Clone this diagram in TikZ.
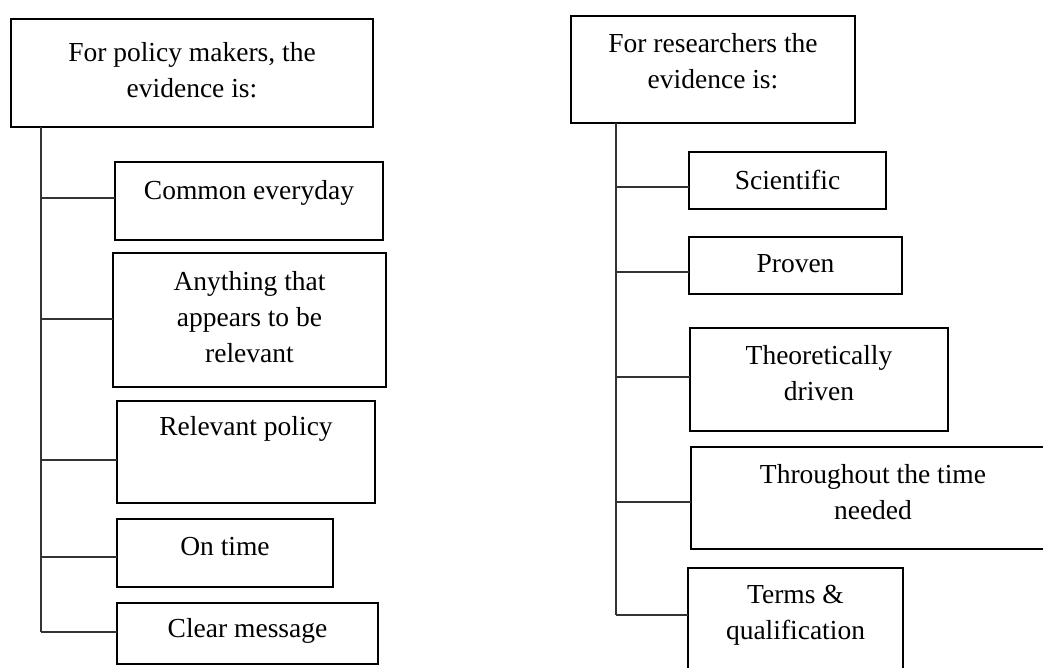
\documentclass[tikz,border=0pt]{standalone}
\usepackage{fontspec}
\setmainfont{Liberation Serif}
\begin{document}
\begin{tikzpicture}[x=1pt,y=-1pt,
  box/.style={draw=black, line width=2pt, inner sep=0pt, outer sep=0pt},
  txt/.style={inner sep=0pt, align=center, font=\fontsize{27.5}{36}\selectfont},
  conn/.style={draw=black!80, line width=1.3pt}]
\useasboundingbox (0,0) rectangle (1043,668);
\clip (0,0) rectangle (1043,668);
% ---------- left column ----------
\node[box, minimum width=362pt, minimum height=108pt] (L0) at (192,73) {};
\node[txt] (L0t) at (192,70) {For policy makers, the\\evidence is:};
\node[box, minimum width=268pt, minimum height=78pt] (L1) at (249,201) {};
\node[txt] (L1t) at (249,193) {Common everyday};
\node[box, minimum width=273pt, minimum height=134pt] (L2) at (249.5,320) {};
\node[txt] (L2t) at (249.5,317) {Anything that\\appears to be\\relevant};
\node[box, minimum width=258pt, minimum height=102pt] (L3) at (246,452) {};
\node[txt] (L3t) at (246,429) {Relevant policy};
\node[box, minimum width=216pt, minimum height=68pt] (L4) at (225,553) {};
\node[txt] (L4t) at (225,547) {On time};
\node[box, minimum width=261pt, minimum height=61pt] (L5) at (247.5,633.5) {};
\node[txt] (L5t) at (247.5,631) {Clear message};
\coordinate (LT) at (41,127);
\coordinate (LB) at (41,632);
\draw[conn] (LT) -- (LB);
\draw[conn] ([yshift=3pt]L1.west) -- ([yshift=3pt]L1.west -| LT);
\draw[conn] ([yshift=1pt]L2.west) -- ([yshift=1pt]L2.west -| LT);
\draw[conn] ([yshift=-8pt]L3.west) -- ([yshift=-8pt]L3.west -| LT);
\draw[conn] ([yshift=-4pt]L4.west) -- ([yshift=-4pt]L4.west -| LT);
\draw[conn] (L5.west |- LB) -- (LB);
% ---------- right column ----------
\node[box, minimum width=284pt, minimum height=107pt] (R0) at (713,69.5) {};
\node[txt] (R0t) at (713,61.5) {For researchers the\\evidence is:};
\node[box, minimum width=197pt, minimum height=57pt] (R1) at (787.5,180.5) {};
\node[txt] (R1t) at (787.5,180) {Scientific};
\node[box, minimum width=213pt, minimum height=57pt] (R2) at (795.5,265.5) {};
\node[txt] (R2t) at (795.5,264) {Proven};
\node[box, minimum width=258pt, minimum height=103pt] (R3) at (819,379.5) {};
\node[txt] (R3t) at (819,373.5) {Theoretically\\driven};
\node[box, minimum width=364pt, minimum height=102pt] (R4) at (873,498) {};
\node[txt] (R4t) at (873,492.5) {Throughout the time\\needed};
\node[box, minimum width=215pt, minimum height=120pt] (R5) at (795.5,628) {};
\node[txt] (R5t) at (795.5,615) {Terms \&\\qualification};
\coordinate (RT) at (616,123);
\coordinate (RB) at (616,615);
\draw[conn] (RT) -- (RB);
\draw[conn] ([yshift=-6.5pt]R1.west) -- ([yshift=-6.5pt]R1.west -| RT);
\draw[conn] ([yshift=-6.5pt]R2.west) -- ([yshift=-6.5pt]R2.west -| RT);
\draw[conn] ([yshift=2.5pt]R3.west) -- ([yshift=2.5pt]R3.west -| RT);
\draw[conn] ([yshift=-4pt]R4.west) -- ([yshift=-4pt]R4.west -| RT);
\draw[conn] (R5.west |- RB) -- (RB);
\end{tikzpicture}
\end{document}
